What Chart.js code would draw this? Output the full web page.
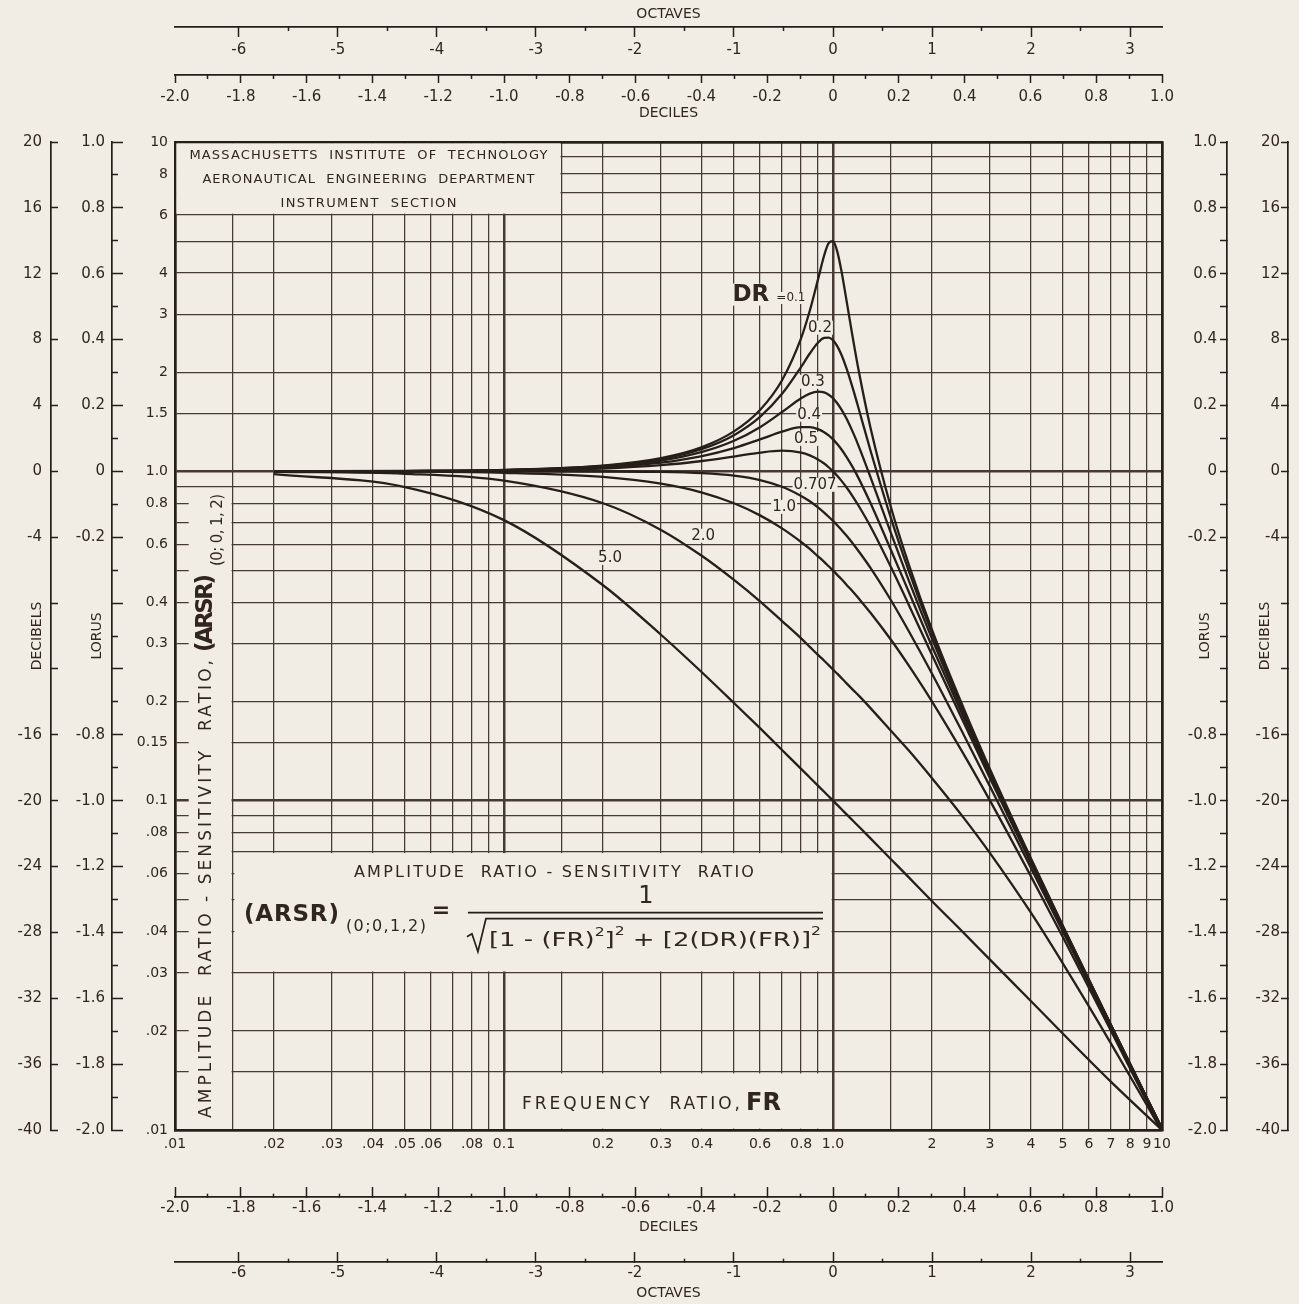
<!DOCTYPE html>
<html>
<head>
<meta charset="utf-8">
<title>Amplitude Ratio - Sensitivity Ratio (0;0,1,2)</title>
<script src="https://cdn.jsdelivr.net/npm/chart.js@4.4.1/dist/chart.umd.min.js"></script>
<style>
  html, body { margin: 0; padding: 0; background: #f1ede4; }
  #wrap { width: 1299px; height: 1304px; }
</style>
</head>
<body>
<div id="wrap"><canvas id="arsrChart" width="1299" height="1304"></canvas></div>
<script>
// ---- data -------------------------------------------------------------
const FR = [0.02, 0.05, 0.1, 0.2, 0.3, 0.4, 0.5, 0.6, 0.7, 0.8, 0.85, 0.9, 0.94, 0.97, 1.0,
            1.03, 1.06, 1.1, 1.15, 1.2, 1.3, 1.5, 1.7, 2, 2.5, 3, 4, 5, 7, 10];

const DR_VALUES = ['0.1', '0.2', '0.3', '0.4', '0.5', '0.707', '1.0', '2.0', '5.0'];

const ARSR_DR_01 = [1.000, 1.003, 1.010, 1.041, 1.097, 1.185, 1.322, 1.536, 1.891, 2.538, 3.073, 3.821, 4.523, 4.931, 5.000,
                    4.655, 4.075, 3.288, 2.525, 1.995, 1.356, 0.778, 0.521, 0.330, 0.190, 0.1247, 0.0666, 0.0416, 0.0208, 0.0101];
const ARSR_DR_02 = [1.000, 1.002, 1.009, 1.038, 1.090, 1.170, 1.288, 1.463, 1.719, 2.076, 2.279, 2.457, 2.541, 2.548, 2.500,
                    2.401, 2.264, 2.051, 1.780, 1.536, 1.157, 0.721, 0.498, 0.322, 0.187, 0.1236, 0.0663, 0.0415, 0.0208, 0.0101];
const ARSR_DR_03 = [1.000, 1.002, 1.008, 1.034, 1.078, 1.145, 1.238, 1.362, 1.514, 1.667, 1.722, 1.747, 1.737, 1.709, 1.667,
                    1.610, 1.543, 1.444, 1.313, 1.185, 0.960, 0.649, 0.466, 0.310, 0.183, 0.1220, 0.0658, 0.0413, 0.0208, 0.0101];
const ARSR_DR_04 = [1.000, 1.002, 1.007, 1.028, 1.063, 1.113, 1.177, 1.250, 1.320, 1.362, 1.362, 1.343, 1.314, 1.285, 1.250,
                    1.210, 1.167, 1.105, 1.026, 0.947, 0.801, 0.577, 0.430, 0.294, 0.178, 0.1197, 0.0652, 0.0411, 0.0207, 0.0101];
const ARSR_DR_05 = [1.000, 1.001, 1.005, 1.020, 1.044, 1.075, 1.109, 1.140, 1.155, 1.140, 1.118, 1.087, 1.056, 1.029, 1.000,
                    0.969, 0.937, 0.893, 0.837, 0.782, 0.680, 0.512, 0.393, 0.277, 0.172, 0.1170, 0.0644, 0.0408, 0.0206, 0.0100];
const ARSR_DR_0707 = [1.000, 1.000, 1.000, 0.999, 0.996, 0.987, 0.970, 0.941, 0.898, 0.842, 0.811, 0.777, 0.749, 0.728, 0.707,
                      0.686, 0.665, 0.637, 0.603, 0.570, 0.509, 0.406, 0.327, 0.243, 0.158, 0.1104, 0.0624, 0.0400, 0.0204, 0.0100];
const ARSR_DR_10 = [1.000, 0.998, 0.990, 0.962, 0.917, 0.862, 0.800, 0.735, 0.671, 0.610, 0.581, 0.552, 0.531, 0.515, 0.500,
                    0.485, 0.471, 0.452, 0.431, 0.410, 0.372, 0.308, 0.257, 0.200, 0.138, 0.100, 0.0588, 0.0385, 0.0200, 0.0099];
const ARSR_DR_20 = [0.997, 0.983, 0.937, 0.800, 0.664, 0.553, 0.468, 0.403, 0.351, 0.311, 0.293, 0.277, 0.266, 0.258, 0.250,
                    0.243, 0.236, 0.227, 0.217, 0.208, 0.191, 0.163, 0.142, 0.117, 0.0885, 0.0693, 0.0456, 0.0320, 0.0183, 0.0099];
const ARSR_DR_50 = [0.981, 0.896, 0.711, 0.451, 0.319, 0.245, 0.198, 0.166, 0.1425, 0.1249, 0.1176, 0.1111, 0.1064, 0.1031, 0.1000,
                    0.0971, 0.0943, 0.0909, 0.0869, 0.0833, 0.0768, 0.0664, 0.0585, 0.0495, 0.0396, 0.0329, 0.0246, 0.0196, 0.0140, 0.0100];

const ARSR_SERIES = [ARSR_DR_01, ARSR_DR_02, ARSR_DR_03, ARSR_DR_04, ARSR_DR_05,
                     ARSR_DR_0707, ARSR_DR_10, ARSR_DR_20, ARSR_DR_50];

// log grid: 1, 1.5, 2 ... 9 in every decade
const X_GRID = [0.01, 0.015, 0.02, 0.03, 0.04, 0.05, 0.06, 0.07, 0.08, 0.09,
                0.1, 0.15, 0.2, 0.3, 0.4, 0.5, 0.6, 0.7, 0.8, 0.9,
                1, 1.5, 2, 3, 4, 5, 6, 7, 8, 9, 10];
const X_TEXT = ['.01', '', '.02', '.03', '.04', '.05', '.06', '', '.08', '',
                '0.1', '', '0.2', '0.3', '0.4', '', '0.6', '', '0.8', '',
                '1.0', '', '2', '3', '4', '5', '6', '7', '8', '9', '10'];
const Y_GRID = [0.01, 0.015, 0.02, 0.03, 0.04, 0.05, 0.06, 0.07, 0.08, 0.09,
                0.1, 0.15, 0.2, 0.3, 0.4, 0.5, 0.6, 0.7, 0.8, 0.9,
                1, 1.5, 2, 3, 4, 5, 6, 7, 8, 9, 10];
const Y_TEXT = ['.01', '', '.02', '.03', '.04', '', '.06', '', '.08', '',
                '0.1', '0.15', '0.2', '0.3', '0.4', '', '0.6', '', '0.8', '',
                '1.0', '1.5', '2', '3', '4', '', '6', '', '8', '', '10'];

const DECILE_TICKS = [-2.0, -1.9, -1.8, -1.7, -1.6, -1.5, -1.4, -1.3, -1.2, -1.1, -1.0, -0.9, -0.8, -0.7, -0.6, -0.5,
                      -0.4, -0.3, -0.2, -0.1, 0, 0.1, 0.2, 0.3, 0.4, 0.5, 0.6, 0.7, 0.8, 0.9, 1.0];
const DECILE_TEXT = ['-2.0', '', '-1.8', '', '-1.6', '', '-1.4', '', '-1.2', '', '-1.0', '', '-0.8', '', '-0.6', '',
                     '-0.4', '', '-0.2', '', '0', '', '0.2', '', '0.4', '', '0.6', '', '0.8', '', '1.0'];

const OCTAVE_TICKS = [-6, -5.5, -5, -4.5, -4, -3.5, -3, -2.5, -2, -1.5, -1, -0.5, 0, 0.5, 1, 1.5, 2, 2.5, 3];
const OCTAVE_TEXT = ['-6', '', '-5', '', '-4', '', '-3', '', '-2', '', '-1', '', '0', '', '1', '', '2', '', '3'];

const LORUS_TICKS = DECILE_TICKS;
const LORUS_TEXT = ['-2.0', '', '-1.8', '', '-1.6', '', '-1.4', '', '-1.2', '', '-1.0', '', '-0.8', '', '', '',
                    '', '', '-0.2', '', '0', '', '0.2', '', '0.4', '', '0.6', '', '0.8', '', '1.0'];

const DB_TICKS = [-40, -36, -32, -28, -24, -20, -16, -12, -8, -4, 0, 4, 8, 12, 16, 20];
const DB_TEXT = ['-40', '-36', '-32', '-28', '-24', '-20', '-16', '', '', '-4', '0', '4', '8', '12', '16', '20'];

// ---- look -------------------------------------------------------------
const X_MIN = 0.01, X_MAX = 10, Y_MIN = 0.01, Y_MAX = 10;
const TEXT_INK = '#30261f';
const GRID_INK = '#463a34';
const CURVE_INK = '#261e19';
const PAPER = '#f1ede4';
const FONT = "'DejaVu Sans', 'Noto Sans', sans-serif";

Chart.defaults.font.family = FONT;
Chart.defaults.font.size = 14;
Chart.defaults.color = TEXT_INK;

const HEAVY = [0.01, 0.1, 1, 10];
const gridWidth = c => HEAVY.includes(c.tick.value) ? 2.5 : 1.25;

// keep every axis box at a fixed thickness so the frames land where they should
const holdSize = px => scale => {
  if (scale.isHorizontal()) scale.height = px; else scale.width = px;
};

// companion scales (deciles, octaves, lorus, decibels)
function sideScale(o) {
  return {
    type: 'linear',
    position: o.position,
    weight: o.weight,
    min: o.min,
    max: o.max,
    afterBuildTicks: s => { s.ticks = o.ticks.map(v => ({ value: v })); },
    afterFit: holdSize(o.size),
    grid: {
      drawOnChartArea: false,
      tickLength: o.tick,
      tickColor: CURVE_INK,
      tickWidth: 1.5,
      tickBorderDash: c => (o.minor && c.index % 2) ? o.minor : []
    },
    border: { display: true, color: CURVE_INK, width: 1.7 },
    ticks: {
      autoSkip: false, maxRotation: 0, minRotation: 0,
      mirror: !!o.mirror,
      padding: o.pad,
      font: { size: 15 },
      callback: (v, i) => o.text[i]
    },
    title: o.title
      ? { display: true, text: o.title, padding: o.titlePad, color: TEXT_INK, font: { size: 14 } }
      : { display: false }
  };
}

// ---- annotations ------------------------------------------------------
const PANELS = [
  [0.01, 0.15, 6, 10],         // header
  [0.0109, 0.015, 0.01, 0.87], // y title strip
  [0.015, 1, 0.03, 0.07],      // formula
  [0.1, 1, 0.01, 0.015]        // x title
];

const CURVE_TAGS = [
  { text: '0.2', x: 0.913, y: 2.73 },
  { text: '0.3', x: 0.869, y: 1.87 },
  { text: '0.4', x: 0.846, y: 1.485 },
  { text: '0.5', x: 0.828, y: 1.255 },
  { text: '0.707', x: 0.882, y: 0.910 },
  { text: '1.0', x: 0.710, y: 0.780 },
  { text: '2.0', x: 0.403, y: 0.637 },
  { text: '5.0', x: 0.210, y: 0.546 }
];
const TAG_FONT = '15px ' + FONT;

function spaced(ctx, text, x, y, width, align) {
  ctx.letterSpacing = '0px';
  const natural = ctx.measureText(text).width;
  const gap = text.length > 1 ? (width - natural) / (text.length - 1) : 0;
  ctx.letterSpacing = gap + 'px';
  ctx.textAlign = 'left';
  ctx.fillText(text, align === 'center' ? x - width / 2 : x, y);
  ctx.letterSpacing = '0px';
}

function drawRun(ctx, parts, x0, y, width) {
  ctx.letterSpacing = '0px';
  let natural = 0;
  for (const p of parts) { ctx.font = p.font; natural += ctx.measureText(p.t).width; }
  ctx.save();
  ctx.translate(x0, y);
  ctx.scale(width / natural, 1);
  ctx.textAlign = 'left';
  let cx = 0;
  for (const p of parts) {
    ctx.font = p.font;
    ctx.fillText(p.t, cx, p.dy || 0);
    cx += ctx.measureText(p.t).width;
  }
  ctx.restore();
}

function panelRect(chart, p) {
  const { x, y } = chart.scales;
  const l = x.getPixelForValue(p[0]), r = x.getPixelForValue(p[1]);
  const t = y.getPixelForValue(p[3]), b = y.getPixelForValue(p[2]);
  return { l, r, t, b };
}

const notesPlugin = {
  id: 'notes',
  beforeDatasetsDraw(chart) {
    const { ctx } = chart;
    const { x, y } = chart.scales;
    ctx.save();
    ctx.fillStyle = PAPER;
    for (const p of PANELS) {
      const r = panelRect(chart, p);
      ctx.fillRect(r.l + 1.4, r.t + 1.4, r.r - r.l - 2.8, r.b - r.t - 2.8);
    }

    // curve tag backgrounds knock the grid out behind the numbers
    ctx.font = TAG_FONT;
    for (const tag of CURVE_TAGS) {
      const w = ctx.measureText(tag.text).width;
      ctx.fillRect(x.getPixelForValue(tag.x) - w / 2 - 1, y.getPixelForValue(tag.y) - 7, w + 2, 14);
    }
    ctx.font = 'bold 23px ' + FONT;
    let w = ctx.measureText('DR').width;
    ctx.fillRect(x.getPixelForValue(0.563) - w / 2 - 2, y.getPixelForValue(3.44) - 11, w + 4, 22);
    ctx.font = '12px ' + FONT;
    w = ctx.measureText('=0.1').width;
    ctx.fillRect(x.getPixelForValue(0.745) - w / 2 - 1, y.getPixelForValue(3.36) - 6, w + 2, 12);

    ctx.fillStyle = TEXT_INK;
    ctx.textBaseline = 'middle';

    // header block
    const hd = panelRect(chart, PANELS[0]);
    const hx = (hd.l + hd.r) / 2;
    ctx.font = '13px ' + FONT;
    spaced(ctx, 'MASSACHUSETTS  INSTITUTE  OF  TECHNOLOGY', hx, hd.t + 14, 358, 'center');
    spaced(ctx, 'AERONAUTICAL  ENGINEERING  DEPARTMENT', hx, hd.t + 38, 332, 'center');
    spaced(ctx, 'INSTRUMENT  SECTION', hx, hd.t + 62, 176, 'center');

    // vertical axis title
    const st = panelRect(chart, PANELS[1]);
    ctx.save();
    ctx.translate(st.l + 19, st.b - 12);
    ctx.rotate(-Math.PI / 2);
    ctx.font = '17px ' + FONT;
    spaced(ctx, 'AMPLITUDE  RATIO - SENSITIVITY  RATIO,', 0, 0, 458, 'left');
    ctx.font = 'bold 23px ' + FONT;
    spaced(ctx, '(ARSR)', 466, 0, 78, 'left');
    ctx.font = '15px ' + FONT;
    spaced(ctx, '(0; 0, 1, 2)', 552, 12, 72, 'left');
    ctx.restore();

    // formula block
    const fm = panelRect(chart, PANELS[2]);
    ctx.font = '16px ' + FONT;
    spaced(ctx, 'AMPLITUDE  RATIO - SENSITIVITY  RATIO', fm.l + 321, fm.t + 21, 400, 'center');
    ctx.font = 'bold 23px ' + FONT;
    spaced(ctx, '(ARSR)', fm.l + 11, fm.t + 63, 95, 'left');
    ctx.font = '16px ' + FONT;
    spaced(ctx, '(0;0,1,2)', fm.l + 113, fm.t + 75, 80, 'left');
    ctx.font = 'bold 22px ' + FONT;
    ctx.textAlign = 'center';
    ctx.fillText('=', fm.l + 208, fm.t + 60);
    ctx.font = '24px ' + FONT;
    ctx.fillText('1', fm.l + 413, fm.t + 45);
    ctx.strokeStyle = CURVE_INK;
    ctx.lineWidth = 1.7;
    ctx.beginPath();
    ctx.moveTo(fm.l + 235, fm.t + 61);
    ctx.lineTo(fm.r - 10, fm.t + 61);
    ctx.stroke();
    ctx.beginPath();
    ctx.moveTo(fm.l + 234, fm.t + 85);
    ctx.lineTo(fm.l + 239, fm.t + 82);
    ctx.lineTo(fm.l + 245, fm.t + 100);
    ctx.lineTo(fm.l + 253, fm.t + 67);
    ctx.lineTo(fm.r - 10, fm.t + 67);
    ctx.stroke();
    const big = '20px ' + FONT, sup = '12px ' + FONT;
    drawRun(ctx, [
      { t: '[1 - (FR)', font: big }, { t: '2', font: sup, dy: -8 }, { t: ']', font: big },
      { t: '2', font: sup, dy: -9 }, { t: ' + [2(DR)(FR)]', font: big }, { t: '2', font: sup, dy: -9 }
    ], fm.l + 256, fm.t + 89, fm.r - fm.l - 268);

    // frequency ratio caption
    const fr = panelRect(chart, PANELS[3]);
    ctx.font = '17px ' + FONT;
    spaced(ctx, 'FREQUENCY  RATIO,', fr.l + 18, fr.t + 33, 218, 'left');
    ctx.font = 'bold 24px ' + FONT;
    ctx.textAlign = 'left';
    ctx.fillText('FR', fr.l + 242, fr.t + 32);
    ctx.restore();
  },
  afterDatasetsDraw(chart) {
    const { ctx } = chart;
    const { x, y } = chart.scales;
    ctx.save();
    ctx.fillStyle = TEXT_INK;
    ctx.textAlign = 'center';
    ctx.textBaseline = 'middle';
    ctx.font = TAG_FONT;
    for (const tag of CURVE_TAGS) {
      ctx.fillText(tag.text, x.getPixelForValue(tag.x), y.getPixelForValue(tag.y));
    }
    ctx.font = 'bold 23px ' + FONT;
    ctx.fillText('DR', x.getPixelForValue(0.563), y.getPixelForValue(3.44));
    ctx.font = '12px ' + FONT;
    ctx.fillText('=0.1', x.getPixelForValue(0.745), y.getPixelForValue(3.36));
    ctx.restore();
  },
  afterDraw(chart) {
    // right-hand companion titles read upward like the left ones
    const { ctx, chartArea } = chart;
    const cy = (chartArea.top + chartArea.bottom) / 2;
    ctx.save();
    ctx.fillStyle = TEXT_INK;
    ctx.font = '14px ' + FONT;
    ctx.textAlign = 'center';
    ctx.textBaseline = 'middle';
    for (const [id, text, dx] of [['lorR', 'LORUS', 22], ['dbR', 'DECIBELS', 23]]) {
      ctx.save();
      ctx.translate(chart.scales[id].left - dx, cy);
      ctx.rotate(-Math.PI / 2);
      ctx.fillText(text, 0, 0);
      ctx.restore();
    }
    ctx.restore();
  }
};

// ---- chart ------------------------------------------------------------
const datasets = ARSR_SERIES.map((values, k) => ({
  label: 'DR = ' + DR_VALUES[k],
  data: FR.map((fr, i) => ({ x: fr, y: values[i] })),
  borderColor: CURVE_INK,
  borderWidth: 2.3,
  pointRadius: 0,
  cubicInterpolationMode: 'monotone',
  fill: false,
  xAxisID: 'x',
  yAxisID: 'y'
}));

const OCT_MIN = Math.log2(X_MIN), OCT_MAX = Math.log2(X_MAX);
const LORUS_MIN = Math.log10(Y_MIN), LORUS_MAX = Math.log10(Y_MAX);

new Chart(document.getElementById('arsrChart'), {
  type: 'line',
  data: { datasets },
  plugins: [notesPlugin],
  options: {
    responsive: false,
    animation: false,
    events: [],
    layout: { padding: 0, autoPadding: false },
    plugins: { legend: { display: false }, tooltip: { enabled: false } },
    scales: {
      x: {
        type: 'logarithmic', position: 'bottom', weight: 0,
        min: X_MIN, max: X_MAX,
        afterBuildTicks: s => { s.ticks = X_GRID.map(v => ({ value: v })); },
        afterFit: holdSize(67),
        grid: { color: GRID_INK, lineWidth: gridWidth, drawTicks: false },
        border: { display: true, color: CURVE_INK, width: 2.5 },
        ticks: { autoSkip: false, maxRotation: 0, minRotation: 0, padding: 6, callback: (v, i) => X_TEXT[i] }
      },
      y: {
        type: 'logarithmic', position: 'left', weight: 0,
        min: Y_MIN, max: Y_MAX,
        afterBuildTicks: s => { s.ticks = Y_GRID.map(v => ({ value: v })); },
        afterFit: holdSize(63),
        grid: { color: GRID_INK, lineWidth: gridWidth, drawTicks: false },
        border: { display: true, color: CURVE_INK, width: 2.5 },
        ticks: { autoSkip: false, padding: 7, callback: (v, i) => Y_TEXT[i] }
      },
      xTop: {
        type: 'logarithmic', position: 'top', weight: 0,
        min: X_MIN, max: X_MAX,
        afterFit: holdSize(67),
        grid: { display: false },
        ticks: { display: false },
        border: { display: true, color: CURVE_INK, width: 2.5 },
        // the DECILES caption sits under the decile labels, in this gap
        title: { display: true, text: 'DECILES', padding: { top: 29.6, bottom: 0 }, color: TEXT_INK, font: { size: 14 } }
      },
      yR: {
        type: 'logarithmic', position: 'right', weight: 0,
        min: Y_MIN, max: Y_MAX,
        afterFit: holdSize(65),
        grid: { display: false },
        ticks: { display: false },
        border: { display: true, color: CURVE_INK, width: 2.5 }
      },
      decTop: sideScale({ position: 'top', weight: 1, min: LORUS_MIN, max: LORUS_MAX, ticks: DECILE_TICKS, text: DECILE_TEXT,
                          size: 48, tick: -8, minor: [0, 4, 4, 200], mirror: true, pad: 13 }),
      octTop: sideScale({ position: 'top', weight: 2, min: OCT_MIN, max: OCT_MAX, ticks: OCTAVE_TICKS, text: OCTAVE_TEXT,
                          size: 27, tick: -10, minor: [0, 6, 4, 200], mirror: true, pad: 14,
                          title: 'OCTAVES', titlePad: { top: 5.6, bottom: 0 } }),
      decBot: sideScale({ position: 'bottom', weight: 1, min: LORUS_MIN, max: LORUS_MAX, ticks: DECILE_TICKS, text: DECILE_TEXT,
                          size: 65, tick: -10, minor: [4, 200], pad: 12,
                          title: 'DECILES', titlePad: { top: 0, bottom: 26.6 } }),
      octBot: sideScale({ position: 'bottom', weight: 2, min: OCT_MIN, max: OCT_MAX, ticks: OCTAVE_TICKS, text: OCTAVE_TEXT,
                          size: 42, tick: -10, minor: [4, 200], pad: 12,
                          title: 'OCTAVES', titlePad: { top: 0, bottom: 2.6 } }),
      lorL: sideScale({ position: 'left', weight: 1, min: LORUS_MIN, max: LORUS_MAX, ticks: LORUS_TICKS, text: LORUS_TEXT,
                        size: 61, tick: -11, minor: [0, 5, 6, 200], pad: 18,
                        title: 'LORUS', titlePad: { top: 37.6, bottom: 0 } }),
      dbL: sideScale({ position: 'left', weight: 2, min: 20 * LORUS_MIN, max: 20 * LORUS_MAX, ticks: DB_TICKS, text: DB_TEXT,
                       size: 51, tick: -7, pad: 16,
                       title: 'DECIBELS', titlePad: { top: 28.6, bottom: 0 } }),
      lorR: sideScale({ position: 'right', weight: 1, min: LORUS_MIN, max: LORUS_MAX, ticks: LORUS_TICKS, text: LORUS_TEXT,
                        size: 61, tick: -7, mirror: true, pad: -10 }),
      dbR: sideScale({ position: 'right', weight: 2, min: 20 * LORUS_MIN, max: 20 * LORUS_MAX, ticks: DB_TICKS, text: DB_TEXT,
                       size: 11, tick: -7, mirror: true, pad: -8 })
    }
  }
});
</script>
</body>
</html>
